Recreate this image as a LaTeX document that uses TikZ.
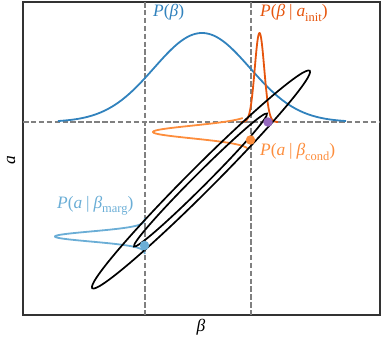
\documentclass[tikz,border=0pt]{standalone}
\usepackage{fontspec}
\setmainfont{Liberation Serif}
\definecolor{cbeta}{HTML}{3182BD}
\definecolor{cinit}{HTML}{E6550D}
\definecolor{ccond}{HTML}{FD8D3C}
\definecolor{cmarg}{HTML}{6BAED6}
\definecolor{cpurp}{HTML}{9467BD}
\definecolor{cdash}{HTML}{808080}
\newcommand{\lblsub}[1]{\raisebox{-0.28em}{\fontsize{12.5}{14}\selectfont\upshape #1}}
\newcommand{\mybar}{\hspace{0.22em}|\hspace{0.22em}}
\begin{document}
\begin{tikzpicture}[x=1bp,y=-1bp,
  frame/.style={draw=black!80,line width=1.3bp},
  guide/.style={draw=cdash,line width=1.6bp,dash pattern=on 5.5bp off 2.4bp},
  curve/.style={line width=1.8bp,line join=round},
  ell/.style={draw=black,line width=1.7bp},
  dotmark/.style={circle,inner sep=0pt,minimum size=9.5bp,draw=none},
  lbl/.style={inner sep=0pt,anchor=base west,font=\fontsize{17.5}{20}\selectfont}]
\useasboundingbox (0,0) rectangle (382,338);
% axes frame
\coordinate (tl) at (23,2);
\coordinate (br) at (380,315);
\draw[frame] (tl) rectangle (br);
% guide lines
\coordinate (hl) at (23,122);
\coordinate (hr) at (380,122);
\coordinate (v1t) at (145,2);
\coordinate (v1b) at (145,315);
\coordinate (v2t) at (251,2);
\coordinate (v2b) at (251,315);
\draw[guide] (hl) -- (hr);
\draw[guide] (v1t) -- (v1b);
\draw[guide] (v2t) -- (v2b);
% distributions
\draw[curve,cbeta] plot[domain=58:346,samples=200] (\x,{122-89*exp(-0.5*((\x-202)/48)^2)});
\draw[curve,cinit] plot[domain=241:278,samples=120] (\x,{122-89*exp(-0.5*((\x-259.5)/4.7)^2)});
\draw[curve,ccond] plot[domain=118:148,samples=120] ({251-98*exp(-0.5*((\x-132)/6.3)^2)},\x);
\draw[curve,cmarg] plot[domain=218:254,samples=120] ({145-90*exp(-0.5*((\x-236.5)/5)^2)},\x);
% ellipses
\draw[ell,shift={(201,179.5)},rotate=45] (0,0) ellipse [x radius=153.8bp,y radius=12.4bp];
\draw[ell,shift={(200.5,180)},rotate=45] (0,0) ellipse [x radius=94bp,y radius=6.4bp];
% points
\node[dotmark,fill=cmarg] (pmarg) at (144.5,245.5) {};
\node[dotmark,fill=ccond] (pcond) at (250.5,140) {};
\node[dotmark,fill=cpurp] (pinit) at (268,122) {};
% labels
\node[lbl,text=cbeta] (lbeta) at (153,16.5) {\textit{P}(\textit{β})};
\node[lbl,text=cinit] (linit) at (260,16.5) {\textit{P}(\textit{β}\mybar\textit{a}\lblsub{init})};
\node[lbl,text=ccond] (lcond) at (260,155.5) {\textit{P}(\textit{a}\mybar\textit{β}\lblsub{cond})};
\node[lbl,text=cmarg] (lmarg) at (57,208) {\textit{P}(\textit{a}\mybar\textit{β}\lblsub{marg})};
\node[inner sep=0pt,font=\fontsize{17.5}{20}\selectfont] (xlab) at (201,327) {\textit{β}};
\node[inner sep=0pt,rotate=90,font=\fontsize{17.5}{20}\selectfont] (ylab) at (11,160) {\textit{a}};
\end{tikzpicture}
\end{document}
